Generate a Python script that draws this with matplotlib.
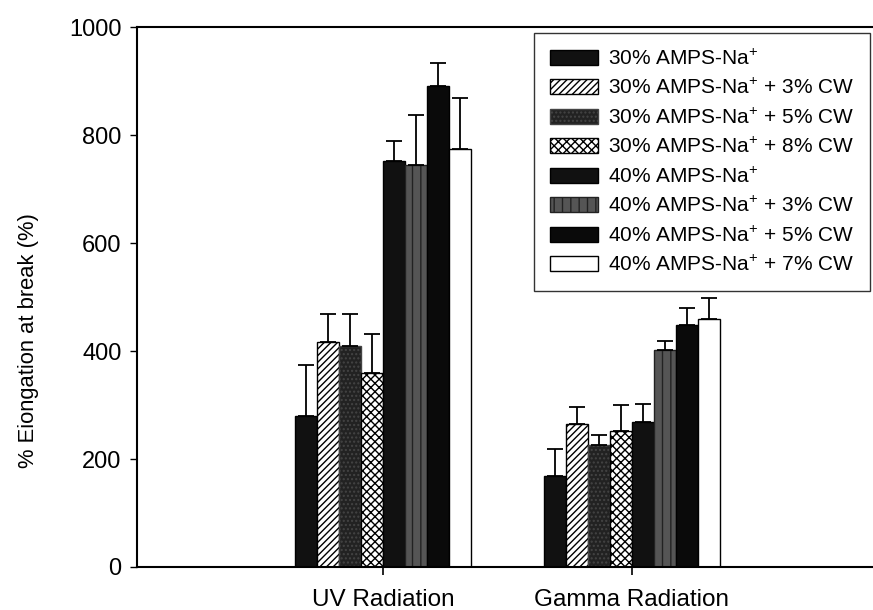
import numpy as np
import matplotlib
matplotlib.use("Agg")
import matplotlib.pyplot as plt

plt.rcParams['font.family'] = ['Liberation Sans', 'DejaVu Sans']
plt.rcParams['mathtext.fontset'] = 'custom'
plt.rcParams['mathtext.rm'] = 'Liberation Sans'
plt.rcParams['mathtext.it'] = 'Liberation Sans'
plt.rcParams['hatch.linewidth'] = 1.0

groups = ["UV Radiation", "Gamma Radiation"]
series = [
    r"30% AMPS-Na$^{+}$",
    r"30% AMPS-Na$^{+}$ + 3% CW",
    r"30% AMPS-Na$^{+}$ + 5% CW",
    r"30% AMPS-Na$^{+}$ + 8% CW",
    r"40% AMPS-Na$^{+}$",
    r"40% AMPS-Na$^{+}$ + 3% CW",
    r"40% AMPS-Na$^{+}$ + 5% CW",
    r"40% AMPS-Na$^{+}$ + 7% CW",
]
# values[series][group]
values = [
    [280, 168],
    [416, 265],
    [410, 226],
    [359, 252],
    [752, 269],
    [745, 401],
    [890, 448],
    [775, 459],
]
errors = [
    [94, 51],
    [52, 31],
    [58, 19],
    [72, 48],
    [36, 33],
    [92, 17],
    [43, 31],
    [93, 40],
]

facecolors = ["#111111", "white", "#222222", "white", "#111111", "#555555", "#0a0a0a", "white"]
hatches = [None, "/////", "....", "xxxx", None, "||", None, None]
hatchcolors = ["black", "black", "#444444", "black", "black", "#222222", "black", "black"]

fig = plt.figure(figsize=(8.73, 6.10), dpi=100)
ax = fig.add_axes([0.1569, 0.0705, 0.8477, 0.8852])

centers = np.array([1.0, 2.0])
width = 0.0884
n = len(series)
for i in range(n):
    x = centers + (i - (n - 1) / 2) * width
    bars = ax.bar(x, values[i], width, color=facecolors[i], edgecolor="black",
                  linewidth=1.0, hatch=hatches[i], label=series[i], zorder=2)
    if hatches[i]:
        for b in bars:
            b.set_edgecolor(hatchcolors[i])
            b._hatch_color = matplotlib.colors.to_rgba(hatchcolors[i])
    ax.errorbar(x, values[i], yerr=[np.zeros(2), errors[i]], fmt="none",
                ecolor="black", elinewidth=1.3, capsize=6, capthick=1.3, zorder=3)

ax.set_xlim(0.012, 2.984)
ax.set_ylim(0, 1000)
ax.set_yticks([0, 200, 400, 600, 800, 1000])
ax.set_xticks(centers)
ax.set_xticklabels(groups)
for s in ax.spines.values():
    s.set_linewidth(1.5)
ax.tick_params(axis='y', direction='out', length=5, width=1, labelsize=17, pad=6)
ax.tick_params(axis='x', direction='out', length=6, width=1.2, labelsize=17.5, pad=10)
ax.set_ylabel("% Eiongation at break (%)", fontsize=15.8)
ax.yaxis.set_label_coords(-0.132, 0.42)

leg = ax.legend(loc="upper right", bbox_to_anchor=(870 / 873, 1 - 33 / 610),
                bbox_transform=fig.transFigure, fontsize=15,
                frameon=True, fancybox=False, edgecolor="black",
                handlelength=2.3, handleheight=0.72, labelspacing=0.45,
                borderpad=0.75, handletextpad=0.5, borderaxespad=0.0)
leg.get_frame().set_linewidth(1.0)

fig.savefig("out.png", dpi=100)
